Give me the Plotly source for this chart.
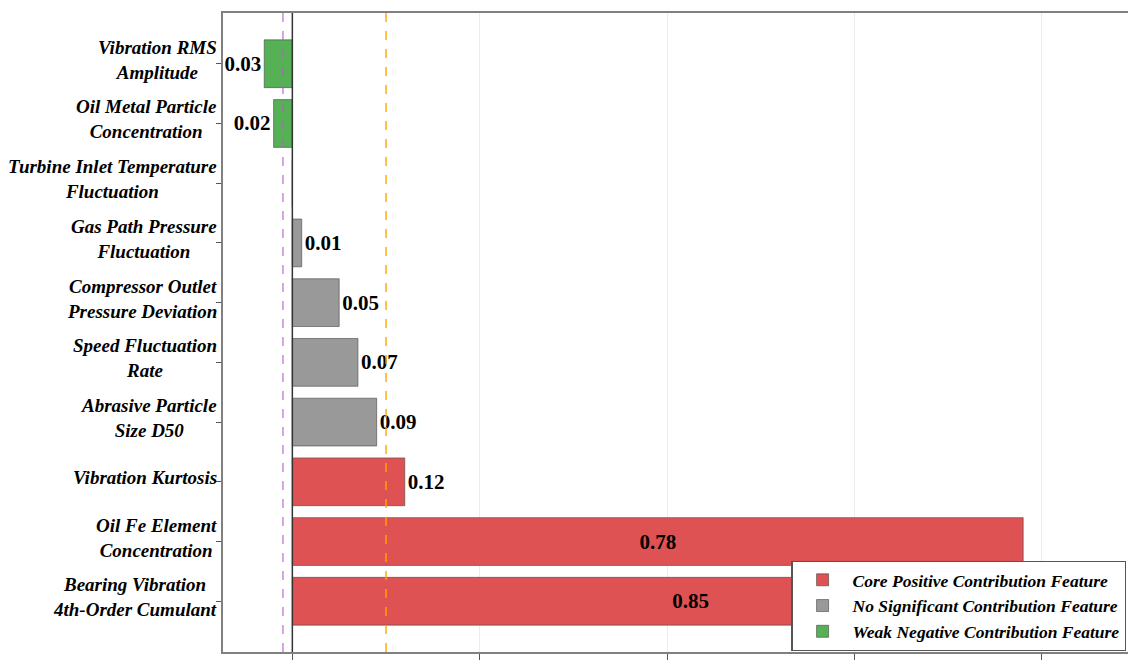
import plotly.graph_objects as go

# features listed top to bottom as in the chart
features = [
    "Vibration RMS<br>Amplitude",
    "Oil Metal Particle<br>Concentration",
    "Turbine Inlet Temperature<br>Fluctuation",
    "Gas Path Pressure<br>Fluctuation",
    "Compressor Outlet<br>Pressure Deviation",
    "Speed Fluctuation<br>Rate",
    "Abrasive Particle<br>Size D50",
    "Vibration Kurtosis",
    "Oil Fe Element<br>Concentration",
    "Bearing Vibration<br>4th-Order Cumulant",
]
contrib = [-0.03, -0.02, 0.0, 0.01, 0.05, 0.07, 0.09, 0.12, 0.78, 0.85]
group = ["neg", "neg", "none", "none", "none", "none", "none", "pos", "pos", "pos"]

groups = [
    ("pos", "Core Positive Contribution Feature", "#de5254"),
    ("none", "No Significant Contribution Feature", "#999999"),
    ("neg", "Weak Negative Contribution Feature", "#56b056"),
]

neg_line = -0.01
pos_line = 0.10
grid_ticks = [0, 0.2, 0.4, 0.6, 0.8]

FONT = "Liberation Serif, Times New Roman, serif"

fig = go.Figure()
for key, name, color in groups:
    ys, xs, txt, pos = [], [], [], []
    for f, v, g in zip(features, contrib, group):
        if g != key:
            continue
        ys.append(f)
        xs.append(v)
        txt.append("" if abs(v) < 0.005 else f"<b>{abs(v):.2f}</b>")
        pos.append("inside" if v > 0.3 else "outside")
    fig.add_trace(go.Bar(
        y=ys, x=xs, orientation="h", name=f"<b><i>{name}</i></b>",
        legendgroup=key,
        marker=dict(color=color, line=dict(color="rgba(70,70,70,0.6)", width=1)),
        width=0.8,
        text=txt, textposition=pos,
        insidetextanchor="middle",
        textfont=dict(family=FONT, size=21, color="black"),
        cliponaxis=False,
    ))

# y labels as annotations so each multi-line label is centred
for f in features:
    fig.add_annotation(
        x=0, xref="paper", y=f, yref="y", xanchor="right", align="center",
        xshift=-4, yshift=4, text=f"<b><i>{f}</i></b>", showarrow=False,
        font=dict(family=FONT, size=19, color="black"),
    )

fig.add_vline(x=0, line=dict(color="#333333", width=1.5))
fig.add_vline(x=neg_line, line=dict(color="#b060c8", width=1.1, dash="dash"))
fig.add_vline(x=pos_line, line=dict(color="#ffa500", width=1.4, dash="dash"))

fig.update_layout(
    width=1128, height=657,
    margin=dict(l=215, r=6, t=3, b=13),
    paper_bgcolor="white", plot_bgcolor="white",
    barmode="overlay",
    font=dict(family=FONT, color="black"),
    legend=dict(
        x=0.996, y=0.002, xanchor="right", yanchor="bottom",
        bgcolor="white", bordercolor="#555555", borderwidth=1.2,
        font=dict(family=FONT, size=17.5, color="black"),
        traceorder="normal", itemwidth=50, tracegroupgap=10,
    ),
    xaxis=dict(
        range=[-0.074, 0.894], tickvals=grid_ticks, showticklabels=False,
        ticks="outside", ticklen=6, tickcolor="#555555",
        showgrid=True, gridcolor="#ececec", zeroline=False,
        showline=True, linecolor="#808080", linewidth=1.5, mirror=True,
    ),
    yaxis=dict(
        categoryorder="array", categoryarray=features,
        range=[9.85, -0.85], showticklabels=False,
        ticks="outside", ticklen=5, tickcolor="#555555",
        showgrid=False, zeroline=False,
        showline=True, linecolor="#808080", linewidth=1.5, mirror=True,
    ),
)

fig.write_html("out.html")
